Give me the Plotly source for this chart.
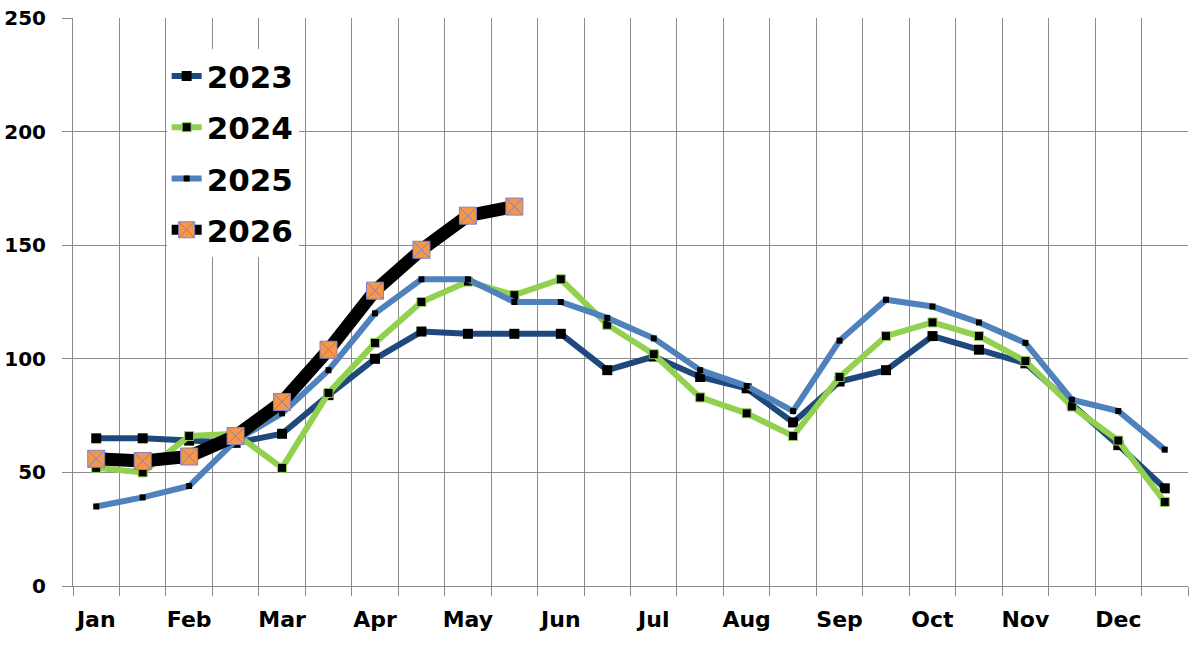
import plotly.graph_objects as go

months = ["Jan", "Feb", "Mar", "Apr", "May", "Jun", "Jul", "Aug", "Sep", "Oct", "Nov", "Dec"]
# semi-monthly observations (two per month)
v2023 = [65, 65, 64, 63, 67, 84, 100, 112, 111, 111, 111, 95,
         101, 92, 87, 72, 90, 95, 110, 104, 98, 80, 62, 43]
v2024 = [52, 50, 66, 67, 52, 85, 107, 125, 134, 128, 135, 115,
         102, 83, 76, 66, 92, 110, 116, 110, 99, 79, 64, 37]
v2025 = [35, 39, 44, 64, 76, 95, 120, 135, 135, 125, 125, 118,
         109, 95, 88, 77, 108, 126, 123, 116, 107, 82, 77, 60]
v2026 = [56, 55, 57, 66, 81, 104, 130, 148, 163, 167]

xpos = [i + 0.5 for i in range(24)]
FONT = "DejaVu Sans"
GRID = "#8a8a8a"

fig = go.Figure()

series = [
    ("2023", v2023, "#1F497D", 6, dict(symbol="square", size=10, color="black")),
    ("2024", v2024, "#92D050", 6, dict(symbol="square", size=9, color="black",
                                        line=dict(color="#92D050", width=1))),
    ("2025", v2025, "#4F81BD", 6, dict(symbol="square", size=6, color="black")),
    ("2026", v2026, "#000000", 13, dict(symbol="square-x", size=17, color="#F79646",
                                         line=dict(color="#8080C0", width=1))),
]

for name, vals, col, w, mk in series:
    fig.add_trace(go.Scatter(
        x=xpos[:len(vals)], y=vals, name=name, mode="lines+markers",
        line=dict(color=col, width=w), marker=mk, legendgroup=name,
    ))

fig.update_layout(
    width=1196, height=658,
    margin=dict(l=73, r=8, t=18, b=72, autoexpand=False),
    paper_bgcolor="white", plot_bgcolor="white",
    font=dict(family=FONT, size=20, color="black"),
    showlegend=True,
    legend=dict(
        x=0.084, y=0.945, xanchor="left", yanchor="top",
        bgcolor="white", borderwidth=0,
        font=dict(family=FONT, size=31, color="black", weight="bold"),
        tracegroupgap=8, itemwidth=30,
    ),
    xaxis=dict(
        range=[0, 24], showgrid=False, zeroline=False, automargin=False,
        tickmode="array", tickvals=[0.5 + 2 * i for i in range(12)], ticktext=months,
        ticks="", tickfont=dict(family=FONT, size=22, weight="bold"),
        ticklabelstandoff=14,
        showline=True, linecolor=GRID, linewidth=1,
        minor=dict(tickmode="array", tickvals=list(range(25)), ticks="outside",
                   ticklen=9, tickcolor=GRID, showgrid=True, gridcolor=GRID, gridwidth=1),
    ),
    yaxis=dict(
        range=[0, 250], dtick=50, showgrid=True, gridcolor=GRID, gridwidth=1,
        zeroline=False, ticks="outside", ticklen=10, tickcolor=GRID, automargin=False,
        showline=True, linecolor=GRID, linewidth=1,
        tickfont=dict(family=FONT, size=20, weight="bold"),
        ticklabelstandoff=12,
    ),
)

fig.write_html("out.html")
